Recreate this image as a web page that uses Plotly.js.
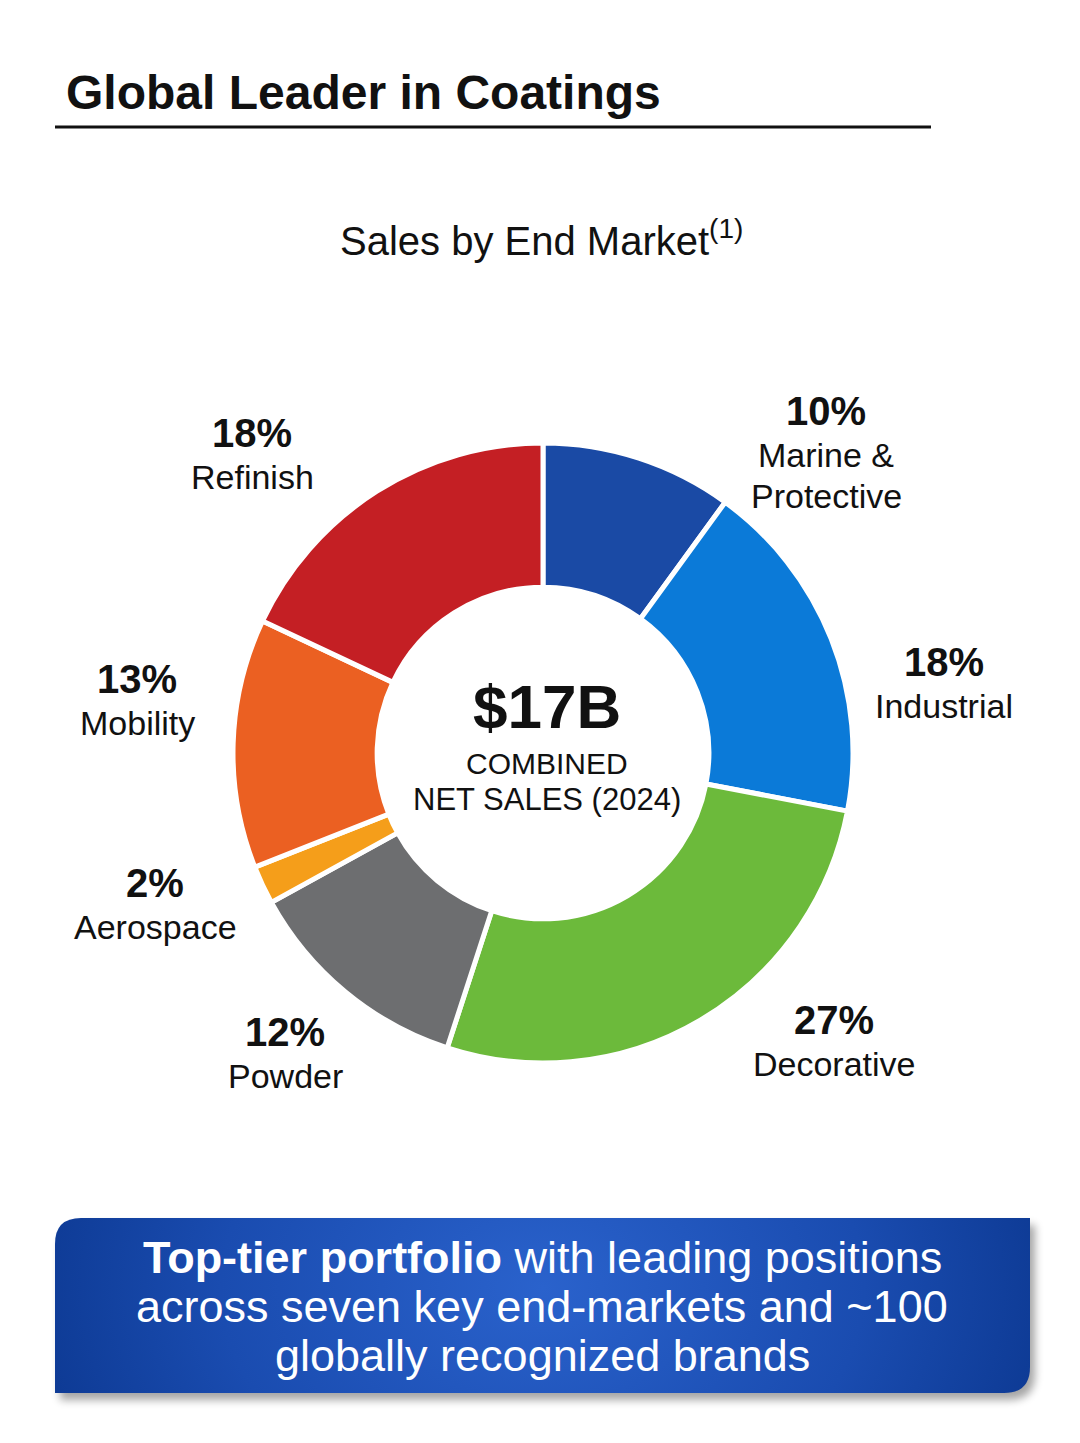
<!DOCTYPE html>
<html>
<head>
<meta charset="utf-8">
<script src="https://cdn.plot.ly/plotly-3.0.1.min.js"></script>
<style>html,body{margin:0;padding:0;background:#fff;}#chart{width:1080px;height:1443px;}</style>
</head>
<body>
<div id="chart"></div>
<script>
// ---- data ----
var markets = ["Marine & Protective", "Industrial", "Decorative", "Powder", "Aerospace", "Mobility", "Refinish"];
var shares = [10, 18, 27, 12, 2, 13, 18];
var labelLines = [["Marine &", "Protective"], ["Industrial"], ["Decorative"], ["Powder"], ["Aerospace"], ["Mobility"], ["Refinish"]];
var colors = ["#1a4aa5", "#0b7ad8", "#6cba3b", "#6d6e70", "#f59e1a", "#eb6022", "#c41f24"];

var W = 1080, H = 1443;
var FONT = "Liberation Sans, Arial, sans-serif";

// label anchor points (pixel positions of percentage text)
var labelPos = [[826, 411], [944, 662], [834, 1020], [285, 1032], [155, 883], [137, 679], [252, 433]];

function px(x) { return x / W; }
function py(y) { return 1 - y / H; }

var cx = 543, cy = 753, R = 310;

var trace = {
  type: "pie",
  values: shares,
  labels: markets,
  sort: false,
  direction: "clockwise",
  rotation: 0,
  hole: 0.535,
  textinfo: "none",
  hoverinfo: "label+percent",
  marker: { colors: colors, line: { color: "#ffffff", width: 5 } },
  domain: { x: [px(cx - R), px(cx + R)], y: [py(cy + R), py(cy - R)] },
  showlegend: false
};

var annotations = [];
function addText(text, x, y, size, opts) {
  opts = opts || {};
  annotations.push({
    xref: "paper", yref: "paper",
    x: px(x), y: py(y),
    xanchor: opts.xanchor || "center", yanchor: "middle",
    text: text, showarrow: false,
    font: { family: FONT, size: size, color: opts.color || "#111111" }
  });
}

// title
addText("<b>Global Leader in Coatings</b>", 64, 92, 48, { xanchor: "left" });
// subtitle
addText("Sales by End Market<sup>(1)</sup>", 541, 238, 40);

// slice labels
for (var i = 0; i < markets.length; i++) {
  var p = labelPos[i];
  addText("<b>" + shares[i] + "%</b>", p[0], p[1], 40);
  for (var j = 0; j < labelLines[i].length; j++) {
    addText(labelLines[i][j], p[0], p[1] + 44 + j * 41, 34);
  }
}

// center text
addText("<b>$17B</b>", 547, 706, 62);
addText("COMBINED", 547, 763, 30);
addText("NET SALES (2024)", 547, 800, 31);

// bottom box text
addText("<b>Top-tier portfolio</b> with leading positions", 542, 1257, 45, { color: "#ffffff" });
addText("across seven key end-markets and ~100", 542, 1306, 45, { color: "#ffffff" });
addText("globally recognized brands", 542, 1355, 45, { color: "#ffffff" });

// bottom box as svg image with gradient + shadow
var bx = 55, by = 1218, bw = 975, bh = 175, r = 26, pad = 16;
var path = "M" + (pad + r) + "," + pad + " L" + (pad + bw) + "," + pad + " L" + (pad + bw) + "," + (pad + bh - r) +
  " Q" + (pad + bw) + "," + (pad + bh) + " " + (pad + bw - r) + "," + (pad + bh) + " L" + pad + "," + (pad + bh) +
  " L" + pad + "," + (pad + r) + " Q" + pad + "," + pad + " " + (pad + r) + "," + pad + " Z";
var svg = "<svg xmlns='http://www.w3.org/2000/svg' width='" + (bw + 2 * pad) + "' height='" + (bh + 2 * pad) + "'>" +
  "<defs><radialGradient id='g' cx='50%' cy='40%' r='55%' gradientTransform='translate(0.5,0.4) scale(1,4) translate(-0.5,-0.4)'>" +
  "<stop offset='0' stop-color='#2a62cc'/><stop offset='0.6' stop-color='#1a4cb0'/><stop offset='1' stop-color='#0c3891'/></radialGradient>" +
  "<filter id='s' x='-5%' y='-20%' width='110%' height='140%'><feGaussianBlur stdDeviation='4'/></filter></defs>" +
  "<path d='" + path + "' fill='#000' opacity='0.35' transform='translate(5,7)' filter='url(#s)'/>" +
  "<path d='" + path + "' fill='url(#g)'/></svg>";
var src = "data:image/svg+xml;charset=utf-8," + encodeURIComponent(svg);

var layout = {
  width: W, height: H,
  margin: { l: 0, r: 0, t: 0, b: 0 },
  paper_bgcolor: "#ffffff",
  plot_bgcolor: "#ffffff",
  showlegend: false,
  annotations: annotations,
  shapes: [
    { type: "line", xref: "paper", yref: "paper", x0: px(55), x1: px(931), y0: py(127), y1: py(127),
      line: { color: "#111111", width: 3 } }
  ],
  images: [
    { source: src, xref: "paper", yref: "paper", x: px(bx - pad), y: py(by - pad),
      sizex: (bw + 2 * pad) / W, sizey: (bh + 2 * pad) / H, xanchor: "left", yanchor: "top",
      sizing: "stretch", layer: "below" }
  ]
};

Plotly.newPlot("chart", [trace], layout, { displayModeBar: false, staticPlot: true });
</script>
</body>
</html>
